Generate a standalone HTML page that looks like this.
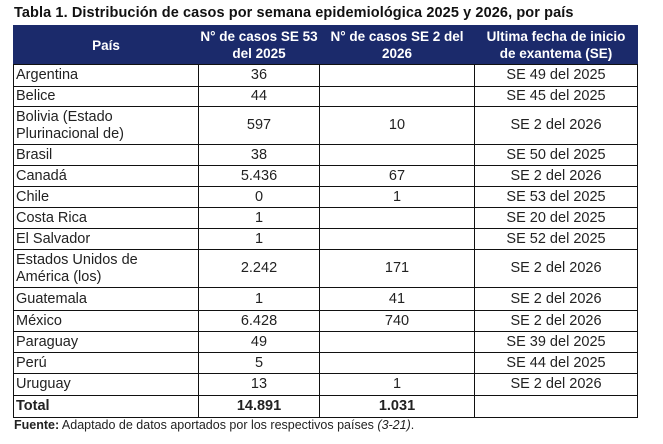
<!DOCTYPE html>
<html><head><meta charset="utf-8"><style>
body{margin:0;width:663px;height:444px;background:#fff;font-family:"Liberation Sans",sans-serif;position:relative;overflow:hidden}
.t{position:absolute;left:14px;top:5px;font-size:14.5px;font-weight:bold;color:#111;letter-spacing:0.1px;white-space:nowrap}
table{position:absolute;left:13px;top:25px;border-collapse:collapse;table-layout:fixed;width:624px;font-size:14.5px;color:#222}
td,th{border:1.3px solid #111;padding:0 1px;text-align:center;line-height:17px;white-space:nowrap;overflow:visible}
th{background:#1b2a6b;color:#fff;font-weight:bold;font-size:13.5px;height:38px;border-color:#1b2a6b;border-bottom-color:#111}
td:first-child{text-align:left;padding-left:2px}
.b td{font-weight:bold}
.f{position:absolute;left:14px;top:418px;font-size:12.5px;color:#222}
</style></head><body>
<div class="t">Tabla 1. Distribución de casos por semana epidemiológica 2025 y 2026, por país</div>
<table>
<colgroup><col style="width:185px"><col style="width:121px"><col style="width:155px"><col style="width:163px"></colgroup>
<tr><th>País</th><th>N° de casos SE 53<br>del 2025</th><th>N° de casos SE 2 del<br>2026</th><th>Ultima fecha de inicio<br>de exantema (SE)</th></tr>
<tr style="height:22px"><td>Argentina</td><td>36</td><td></td><td>SE 49 del 2025</td></tr>
<tr style="height:20px"><td>Belice</td><td>44</td><td></td><td>SE 45 del 2025</td></tr>
<tr style="height:38px"><td>Bolivia (Estado<br>Plurinacional de)</td><td>597</td><td>10</td><td>SE 2 del 2026</td></tr>
<tr style="height:21px"><td>Brasil</td><td>38</td><td></td><td>SE 50 del 2025</td></tr>
<tr style="height:21px"><td>Canadá</td><td>5.436</td><td>67</td><td>SE 2 del 2026</td></tr>
<tr style="height:21px"><td>Chile</td><td>0</td><td>1</td><td>SE 53 del 2025</td></tr>
<tr style="height:21px"><td>Costa Rica</td><td>1</td><td></td><td>SE 20 del 2025</td></tr>
<tr style="height:21px"><td>El Salvador</td><td>1</td><td></td><td>SE 52 del 2025</td></tr>
<tr style="height:38px"><td>Estados Unidos de<br>América (los)</td><td>2.242</td><td>171</td><td>SE 2 del 2026</td></tr>
<tr style="height:23px"><td>Guatemala</td><td>1</td><td>41</td><td>SE 2 del 2026</td></tr>
<tr style="height:21px"><td>México</td><td>6.428</td><td>740</td><td>SE 2 del 2026</td></tr>
<tr style="height:21px"><td>Paraguay</td><td>49</td><td></td><td>SE 39 del 2025</td></tr>
<tr style="height:21px"><td>Perú</td><td>5</td><td></td><td>SE 44 del 2025</td></tr>
<tr style="height:22px"><td>Uruguay</td><td>13</td><td>1</td><td>SE 2 del 2026</td></tr>
<tr class="b" style="height:22px"><td>Total</td><td>14.891</td><td>1.031</td><td></td></tr>
</table>
<div class="f"><b>Fuente:</b> Adaptado de datos aportados por los respectivos países <i>(3-21)</i>.</div>
</body></html>
